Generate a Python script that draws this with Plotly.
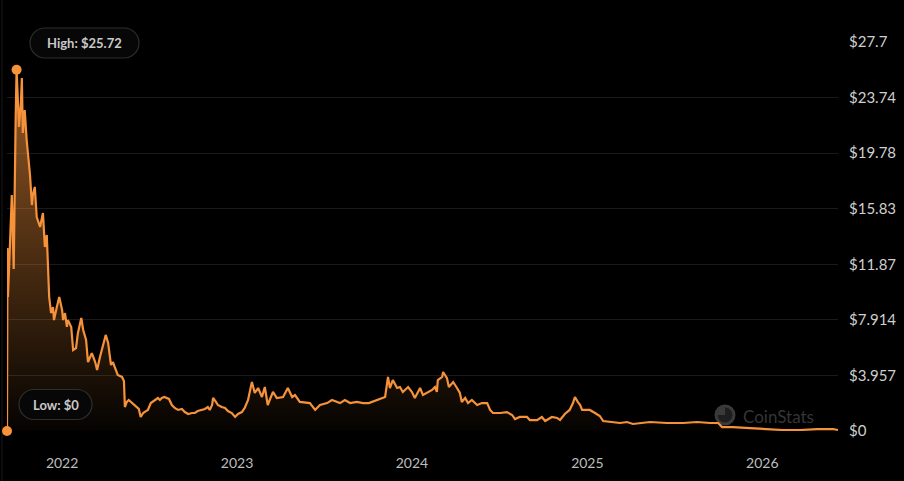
import plotly.graph_objects as go

# ---- data ----
dates = [
    "2021-09-08", "2021-09-09", "2021-09-10", "2021-09-14", "2021-09-18", "2021-09-22",
    "2021-09-24", "2021-09-26", "2021-09-28", "2021-10-03", "2021-10-07", "2021-10-09",
    "2021-10-11", "2021-10-15", "2021-10-19", "2021-10-21", "2021-10-26", "2021-10-30",
    "2021-11-01", "2021-11-05", "2021-11-09", "2021-11-16", "2021-11-22", "2021-11-26",
    "2021-11-30", "2021-12-05", "2021-12-09", "2021-12-13", "2021-12-15", "2021-12-21",
    "2021-12-26", "2022-01-01", "2022-01-03", "2022-01-07", "2022-01-11", "2022-01-13",
    "2022-01-20", "2022-01-24", "2022-01-30", "2022-02-03", "2022-02-10", "2022-02-14",
    "2022-02-20", "2022-02-24", "2022-03-04", "2022-03-11", "2022-03-15", "2022-03-21",
    "2022-03-27", "2022-04-02", "2022-04-07", "2022-04-13", "2022-04-17", "2022-04-23",
    "2022-04-27", "2022-05-06", "2022-05-10", "2022-05-12", "2022-05-16", "2022-05-20",
    "2022-05-27", "2022-05-31", "2022-06-06", "2022-06-10", "2022-06-14", "2022-06-19",
    "2022-06-25", "2022-06-29", "2022-07-05", "2022-07-09", "2022-07-16", "2022-07-20",
    "2022-07-24", "2022-07-28", "2022-08-02", "2022-08-08", "2022-08-12", "2022-08-18",
    "2022-08-24", "2022-08-31", "2022-09-08", "2022-09-14", "2022-09-21", "2022-09-29",
    "2022-10-05", "2022-10-11", "2022-10-20", "2022-10-26", "2022-11-01", "2022-11-05",
    "2022-11-10", "2022-11-12", "2022-11-18", "2022-11-22", "2022-11-30", "2022-12-07",
    "2022-12-13", "2022-12-21", "2022-12-28", "2023-01-03", "2023-01-11", "2023-01-17",
    "2023-01-24", "2023-02-01", "2023-02-07", "2023-02-14", "2023-02-22", "2023-02-28",
    "2023-03-06", "2023-03-17", "2023-03-25", "2023-04-07", "2023-04-17", "2023-04-26",
    "2023-05-02", "2023-05-12", "2023-06-02", "2023-06-13", "2023-06-23", "2023-07-08",
    "2023-07-18", "2023-08-04", "2023-08-14", "2023-08-25", "2023-09-08", "2023-09-21",
    "2023-10-03", "2023-10-20", "2023-10-30", "2023-11-06", "2023-11-12", "2023-11-16",
    "2023-11-22", "2023-12-01", "2023-12-07", "2023-12-13", "2023-12-24", "2024-01-01",
    "2024-01-07", "2024-01-18", "2024-01-24", "2024-02-01", "2024-02-12", "2024-02-18",
    "2024-02-22", "2024-02-24", "2024-03-04", "2024-03-06", "2024-03-14", "2024-03-18",
    "2024-03-27", "2024-04-04", "2024-04-10", "2024-04-14", "2024-04-21", "2024-04-27",
    "2024-05-05", "2024-05-16", "2024-05-26", "2024-06-06", "2024-06-12", "2024-06-18",
    "2024-07-03", "2024-07-17", "2024-07-28", "2024-08-03", "2024-08-13", "2024-08-28",
    "2024-09-03", "2024-09-18", "2024-09-28", "2024-10-05", "2024-10-19", "2024-10-30",
    "2024-11-05", "2024-11-15", "2024-11-25", "2024-12-02", "2024-12-06", "2024-12-12",
    "2024-12-17", "2024-12-21", "2025-01-06", "2025-01-17", "2025-01-27", "2025-02-03",
    "2025-02-17", "2025-03-10", "2025-03-25", "2025-04-06", "2025-05-12", "2025-06-16",
    "2025-07-20", "2025-08-18", "2025-09-14", "2025-10-01", "2025-10-09", "2025-11-01",
    "2025-12-06", "2026-01-11", "2026-02-13", "2026-03-21", "2026-04-25", "2026-05-29",
    "2026-06-08",
]
prices = [
    0.0, 13.03, 9.54, 13.10, 16.81, 11.54,
    19.30, 22.15, 25.72, 21.65, 23.36, 25.14,
    21.22, 22.86, 20.72, 20.01, 18.23, 16.09,
    16.81, 17.38, 15.24, 14.53, 15.52, 13.10,
    13.96, 9.54, 8.40, 8.83, 7.90, 8.83,
    9.54, 8.62, 7.90, 8.40, 7.41, 7.90,
    7.41, 5.77, 5.91, 6.98, 8.05, 7.19,
    6.48, 4.91, 5.55, 4.91, 4.34, 5.27,
    6.12, 6.84, 6.27, 4.70, 4.91, 4.34,
    3.99, 3.85, 3.56, 1.71, 2.07, 2.21,
    1.99, 1.85, 1.71, 1.57, 1.00, 1.28,
    1.42, 1.50, 1.99, 2.07, 2.21, 2.35,
    2.21, 2.35, 2.42, 2.35, 2.28, 1.85,
    1.64, 1.50, 1.57, 1.35, 1.21, 1.28,
    1.28, 1.42, 1.50, 1.57, 1.71, 1.50,
    1.85, 2.35, 2.07, 1.85, 1.71, 1.64,
    1.42, 1.28, 1.00, 1.21, 1.35, 1.64,
    2.21, 3.49, 2.71, 3.06, 2.42, 3.13,
    1.85, 2.78, 2.35, 2.42, 3.06, 2.42,
    2.56, 2.07, 1.99, 1.50, 1.85, 1.99,
    2.21, 1.99, 2.21, 1.99, 2.07, 1.99,
    1.99, 2.21, 2.35, 2.42, 3.85, 3.06,
    3.63, 3.06, 3.13, 2.78, 3.13, 2.78,
    2.35, 3.06, 2.56, 2.71, 2.92, 3.13,
    2.78, 3.63, 3.85, 4.20, 3.77, 3.13,
    3.49, 3.06, 2.71, 2.07, 2.35, 1.99,
    2.21, 1.85, 1.99, 1.99, 1.50, 1.28,
    1.28, 1.35, 1.14, 0.85, 1.00, 1.00,
    0.78, 0.78, 1.00, 0.71, 1.00, 0.93,
    0.78, 1.21, 1.50, 1.99, 2.42, 2.07,
    1.85, 1.50, 1.50, 1.28, 1.07, 0.71,
    0.64, 0.57, 0.64, 0.50, 0.64, 0.57,
    0.57, 0.64, 0.57, 0.57, 0.28, 0.28,
    0.21, 0.14, 0.07, 0.07, 0.14, 0.14,
    0.07,
]
year_ticks = ["2022-01-01", "2023-01-01", "2024-01-01", "2025-01-01", "2026-01-01"]
year_labels = ["2022", "2023", "2024", "2025", "2026"]
price_ticks = [0, 3.957, 7.914, 11.87, 15.83, 19.78, 23.74, 27.7]
price_labels = ["$0", "$3.957", "$7.914", "$11.87", "$15.83", "$19.78", "$23.74", "$27.7"]
high_label = "High: $25.72"
low_label = "Low: $0"
watermark = "CoinStats"

ORANGE = "#F5923A"
W, H = 904, 481
L, R, T, B = 7, 66, 42, 50

hi_i = prices.index(max(prices))
lo_i = prices.index(min(prices))

fig = go.Figure()
fig.add_trace(go.Scatter(
    x=dates, y=prices, mode="lines",
    line=dict(color=ORANGE, width=2.2),
    fill="tozeroy",
    fillgradient=dict(type="vertical", start=0, stop=26,
                      colorscale=[[0, "rgba(245,146,58,0.02)"],
                                  [1, "rgba(245,146,58,0.62)"]]),
    hoverinfo="skip", showlegend=False,
))
fig.add_trace(go.Scatter(
    x=[dates[hi_i], dates[lo_i]], y=[prices[hi_i], prices[lo_i]],
    mode="markers", marker=dict(color=ORANGE, size=10),
    cliponaxis=False, showlegend=False, hoverinfo="skip",
))

pw = W - L - R
ph = H - T - B


def px_x(v):
    return (v - L) / pw


def px_y(v):
    return (H - B - v) / ph


def pill(cx, cy, w, h, text):
    r = h / 2
    hw = w / 2 - r
    k = 0.5523 * r
    path = (f"M {-hw},{-r} L {hw},{-r} "
            f"C {hw + k},{-r} {hw + r},{-k} {hw + r},0 "
            f"C {hw + r},{k} {hw + k},{r} {hw},{r} "
            f"L {-hw},{r} "
            f"C {-hw - k},{r} {-hw - r},{k} {-hw - r},0 "
            f"C {-hw - r},{-k} {-hw - k},{-r} {-hw},{-r} Z")
    fig.add_shape(type="path", xref="paper", yref="paper",
                  xsizemode="pixel", ysizemode="pixel",
                  xanchor=px_x(cx), yanchor=px_y(cy), path=path,
                  line=dict(color="#2e2e2e", width=1.2),
                  fillcolor="#070707", layer="above")
    fig.add_annotation(x=px_x(cx), y=px_y(cy), xref="paper", yref="paper",
                       text=f"<b>{text}</b>", showarrow=False,
                       font=dict(family="Lato", size=13, color="#c9c9c9"),
                       xanchor="center", yanchor="middle")


pill(84.5, 43, 109, 30, high_label)
pill(55.5, 404.5, 73, 30, low_label)

# left border line
fig.add_shape(type="line", xref="paper", yref="paper",
              x0=px_x(2), x1=px_x(2), y0=px_y(H), y1=px_y(0),
              line=dict(color="#1b1b1b", width=1), layer="below")

# watermark
fig.add_shape(type="circle", xref="paper", yref="paper",
              xsizemode="pixel", ysizemode="pixel",
              xanchor=px_x(725), yanchor=px_y(415),
              x0=-9, x1=9, y0=-9, y1=9,
              line=dict(color="#3a3a3a", width=3), fillcolor="#1e1e1e",
              layer="below")
fig.add_shape(type="path", xref="paper", yref="paper",
              xsizemode="pixel", ysizemode="pixel",
              xanchor=px_x(725), yanchor=px_y(415),
              path="M 0,0 L 0,8 C -4.4,8 -8,4.4 -8,0 Z",
              line=dict(width=0), fillcolor="#3a3a3a", layer="below")
fig.add_annotation(x=px_x(741), y=px_y(416), xref="paper", yref="paper",
                   text=watermark, showarrow=False, xanchor="left", yanchor="middle",
                   font=dict(family="Lato", size=17, color="#353535"))

fig.update_layout(
    width=W, height=H,
    margin=dict(l=L, r=R, t=T, b=B, pad=0),
    paper_bgcolor="#000000", plot_bgcolor="#000000",
    xaxis=dict(range=[dates[0], dates[-1]], tickvals=year_ticks, ticktext=year_labels,
               showgrid=False, zeroline=False, showline=False, ticks="",
               ticklabelstandoff=22,
               tickfont=dict(family="Lato", size=14, color="#bdbdbd")),
    yaxis=dict(range=[0, 27.7], side="right", tickvals=price_ticks, ticktext=price_labels,
               showgrid=True, gridcolor="#1a1a1a", gridwidth=1, zeroline=False,
               showline=False, ticks="", ticklabelstandoff=10, automargin=False,
               tickfont=dict(family="Lato", size=15, color="#cfcfcf")),
)

fig.write_html("out.html", config={"displayModeBar": False},
               post_script="document.body.style.margin='0';document.body.style.background='#000';")
